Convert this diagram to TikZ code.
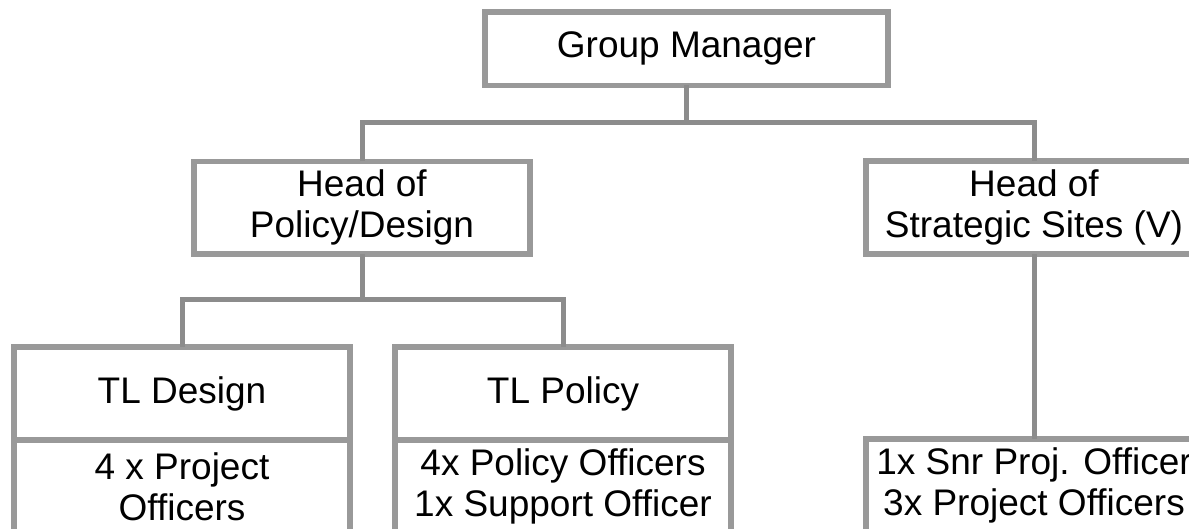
\documentclass[tikz,border=0pt]{standalone}
\usepackage{fontspec}
\setmainfont{Liberation Sans}
\definecolor{boxgray}{gray}{0.6}
\definecolor{linegray}{gray}{0.55}
\tikzset{
  orgbox/.style={draw=boxgray, line width=5.5pt, fill=white, inner sep=0pt, outer sep=0pt,
    align=center, font=\fontsize{37}{41}\selectfont, text=black},
  conn/.style={draw=linegray, line width=5pt}
}
\begin{document}
\begin{tikzpicture}[x=1pt,y=-1pt]
\clip (0,0) rectangle (1189,529);
\fill[white] (0,0) rectangle (1189,529);
% boxes
\node[orgbox, minimum width=403pt, minimum height=73.5pt] (gm) at (686.5,48.75) {Group Manager};
\node[orgbox, minimum width=336pt, minimum height=92.5pt] (hpd) at (362,207.75) {Head of\\Policy/Design};
\node[orgbox, minimum width=336pt, minimum height=93pt] (hss) at (1034,207.5) {Head of\\Strategic Sites (V)};
\node[orgbox, minimum width=336pt, minimum height=93pt] (tld) at (182,393.5) {TL Design};
\node[orgbox, minimum width=336pt, minimum height=93pt] (tldl) at (182,486.5) {4 x Project\\Officers};
\node[orgbox, minimum width=336pt, minimum height=93pt] (tlp) at (563,393.5) {TL Policy};
\node[orgbox, minimum width=336pt, minimum height=93pt] (tlpl) at (563,486.5) {4x Policy Officers\\1x Support Officer};
\node[orgbox, minimum width=336pt, minimum height=93pt] (ssl) at (1034,485.5) {1x Snr Proj. Officer\\3x Project Officers};
% junctions
\coordinate (j1) at (686.5,123);
\coordinate (j2) at (362,300);
% connectors
\draw[conn] (gm.south) -- (j1);
\draw[conn] (hpd.north) |- (j1) -| (hss.north);
\draw[conn] (hpd.south) -- (j2);
\draw[conn] (tld.north) |- (j2) -| (tlp.north);
\draw[conn] (hss.south) -- (ssl.north);
% redraw box borders over connector ends
\end{tikzpicture}
\end{document}
